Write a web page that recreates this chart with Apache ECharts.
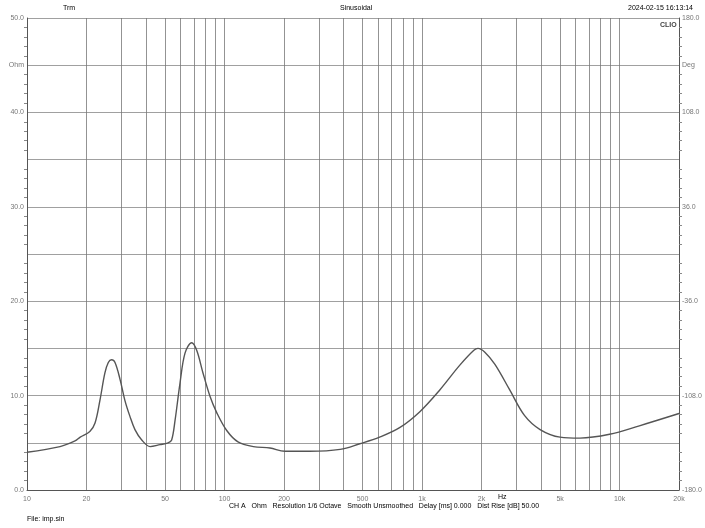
<!DOCTYPE html>
<html>
<head>
<meta charset="utf-8">
<script src="https://cdn.jsdelivr.net/npm/echarts@6/dist/echarts.min.js"></script>
<style>html,body{margin:0;padding:0;background:#fff}#chart{width:705px;height:528px}</style>
</head>
<body>
<div id="chart"></div>
<script>
// impedance curve (Hz, Ohm)
var freqs = [10, 14.7, 17.5, 18.6, 20.8, 22.1, 23.4, 24.8, 25.8, 26.8, 27.9, 29.6, 31.3, 33.2, 35.2, 38.1, 42, 47.1, 51.8, 54, 56.2, 59.5, 63.1, 68.2, 72.3, 77.8, 84.5, 91.3, 102.6, 117, 140, 170, 202, 270, 385, 484, 610, 770, 975, 1230, 1550, 1830, 1920, 2080, 2340, 2780, 3300, 3960, 5000, 6300, 8900, 12600, 20000];
var ohms = [4.0, 4.6, 5.2, 5.6, 6.2, 7.1, 9.5, 12.4, 13.5, 13.8, 13.5, 11.7, 9.5, 7.8, 6.4, 5.3, 4.6, 4.8, 5.0, 5.3, 7.4, 11.3, 14.5, 15.6, 14.8, 12.4, 9.9, 8.2, 6.3, 5.1, 4.6, 4.45, 4.1, 4.1, 4.3, 4.9, 5.6, 6.6, 8.3, 10.6, 13.2, 14.8, 15.0, 14.6, 13.3, 10.6, 7.9, 6.4, 5.6, 5.5, 5.9, 6.8, 8.1];
var gridFreqs = [10,20,30,40,50,60,70,80,90,100,200,300,400,500,600,700,800,900,1000,2000,3000,4000,5000,6000,7000,8000,9000,10000,20000];
var labelFreqs = [10, 20, 50, 100, 200, 500, 1000, 2000, 5000, 10000, 20000];
var labelTexts = ['10', '20', '50', '100', '200', '500', '1k', '2k', '5k', '10k', '20k'];

var lg = function (f) { return Math.log10(f); };
var data = freqs.map(function (f, i) { return [lg(f), ohms[i]]; });
var labelMap = {};
labelFreqs.forEach(function (f, i) { labelMap[lg(f).toFixed(4)] = labelTexts[i]; });

var chart = echarts.init(document.getElementById('chart'));
var small = { fontFamily: 'Liberation Sans', fontSize: 7, color: '#777' };
chart.setOption({
  animation: false,
  grid: { left: 27, right: 26, top: 18, bottom: 38 },
  xAxis: {
    type: 'value', min: 1, max: lg(20000),
    axisLine: { lineStyle: { color: '#555' } },
    axisTick: { show: false, customValues: gridFreqs.map(lg) },
    splitLine: { show: true, lineStyle: { color: '#777', width: 0.8 } },
    axisLabel: Object.assign({
      customValues: labelFreqs.map(lg), margin: 6,
      formatter: function (v) { return labelMap[v.toFixed(4)] || ''; }
    }, small)
  },
  yAxis: [{
    type: 'value', min: 0, max: 50, interval: 5,
    axisLine: { show: true, lineStyle: { color: '#555' } },
    axisTick: { show: false },
    minorTick: { show: true, splitNumber: 5, length: 3, lineStyle: { color: '#888' } },
    splitLine: { lineStyle: { color: '#888', width: 0.8 } },
    axisLabel: Object.assign({ margin: 3, formatter: function (v) {
      return v === 45 ? 'Ohm' : (v % 10 === 0 ? v.toFixed(1) : '');
    } }, small)
  }, {
    type: 'value', min: 0, max: 50, interval: 5, position: 'right',
    axisLine: { show: true, lineStyle: { color: '#555' } },
    axisTick: { show: false },
    minorTick: { show: true, splitNumber: 5, length: 3, lineStyle: { color: '#888' } },
    splitLine: { show: false },
    axisLabel: Object.assign({ margin: 3, formatter: function (v) {
      return v === 45 ? 'Deg' : (v % 10 === 0 ? (v * 7.2 - 180).toFixed(1) : '');
    } }, small)
  }],
  graphic: [
    { type: 'text', left: 63, top: 5, style: Object.assign({ text: 'Trm' }, small) },
    { type: 'text', left: 340, top: 5, style: Object.assign({ text: 'Sinusoidal' }, small) },
    { type: 'text', left: 628, top: 5, style: Object.assign({ text: '2024-02-15 16:13:14' }, small) },
    { type: 'text', left: 660, top: 22, style: { text: 'CLIO', fontFamily: 'Liberation Sans', fontSize: 7, fontWeight: 'bold', fill: '#444' } },
    { type: 'text', left: 498, top: 494, style: Object.assign({ text: 'Hz' }, small) },
    { type: 'text', left: 229, top: 503, style: Object.assign({ text: 'CH A   Ohm   Resolution 1/6 Octave   Smooth Unsmoothed   Delay [ms] 0.000   Dist Rise [dB] 50.00' }, small) },
    { type: 'text', left: 27, top: 516, style: Object.assign({ text: 'File: imp.sin' }, small) }
  ],
  series: [{
    type: 'line', data: data, smooth: 0.35, showSymbol: false,
    lineStyle: { color: '#555', width: 1.4 }
  }]
});
</script>
</body>
</html>
